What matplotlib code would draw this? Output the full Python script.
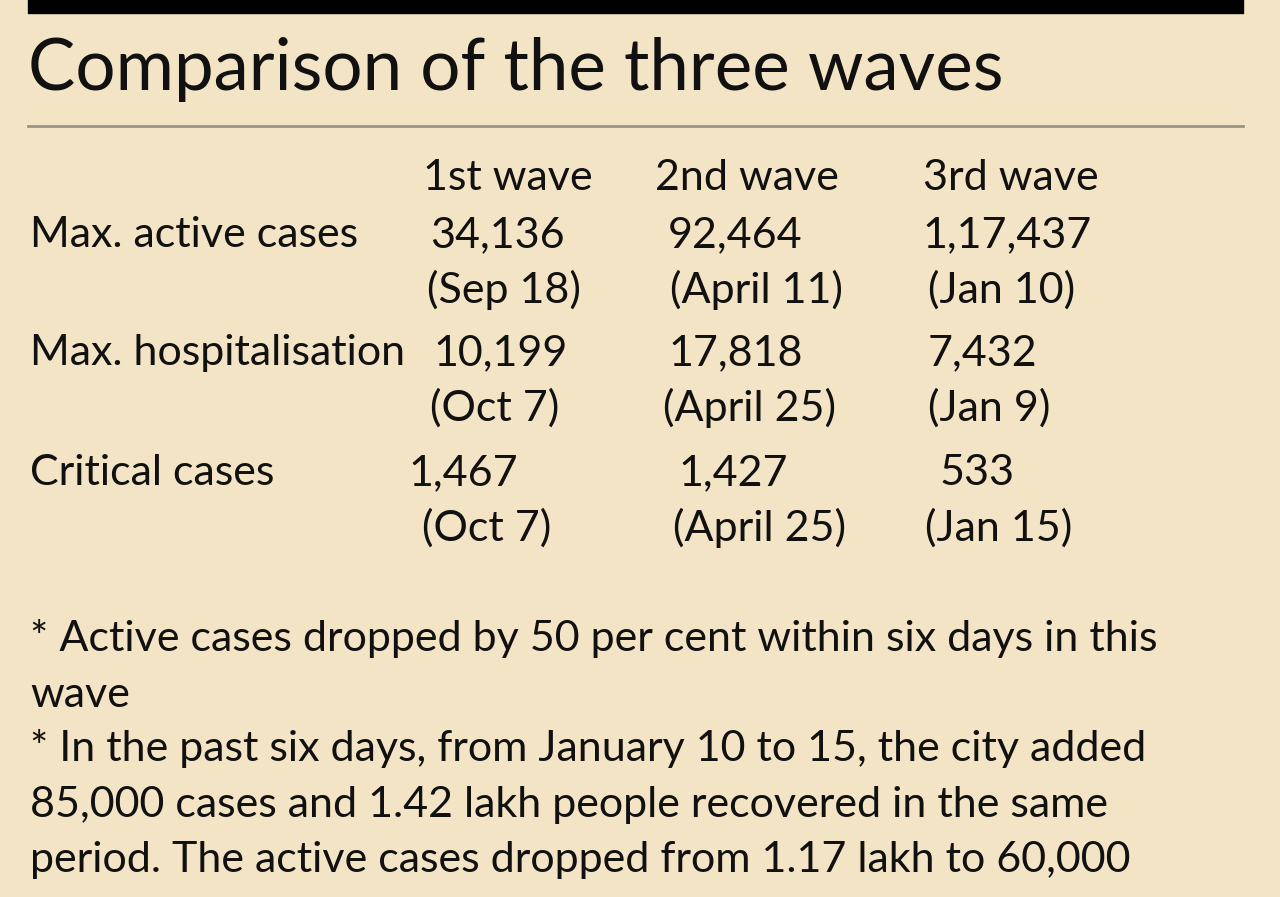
import matplotlib.pyplot as plt

BG = '#f3e4c5'

waves = ['1st wave', '2nd wave', '3rd wave']
row_labels = ['Max. active cases', 'Max. hospitalisation', 'Critical cases']
active = ['34,136', '92,464', '1,17,437']
active_dates = ['(Sep 18)', '(April 11)', '(Jan 10)']
hosp = ['10,199', '17,818', '7,432']
hosp_dates = ['(Oct 7)', '(April 25)', '(Jan 9)']
critical = ['1,467', '1,427', '533']
critical_dates = ['(Oct 7)', '(April 25)', '(Jan 15)']
notes = ['* Active cases dropped by 50 per cent within six days in this',
         'wave',
         '* In the past six days, from January 10 to 15, the city added',
         '85,000 cases and 1.42 lakh people recovered in the same',
         'period. The active cases dropped from 1.17 lakh to 60,000']

plt.rcParams['font.family'] = ['Lato', 'DejaVu Sans']

fig = plt.figure(figsize=(12.8, 8.97), dpi=100)
fig.patch.set_facecolor(BG)
ax = fig.add_axes([0, 0, 1, 1])
ax.set_xlim(0, 1280)
ax.set_ylim(897, 0)
ax.axis('off')

# top black bar and divider
ax.fill_between([28, 1243], 0, 13, color='black')
ax.plot([28, 1243], [126, 126], color='#9a9488', lw=2)

ax.text(28, 70, 'Comparison of the three waves', fontsize=51, va='center', color='#111')

fs = 31
col_x = [423, 655, 923]
for x, w in zip(col_x, waves):
    ax.text(x, 178, w, fontsize=fs, va='center', color='#111')

rows = [(active, active_dates, [430, 668, 922], [427, 670, 928], 235),
        (hosp, hosp_dates, [433, 668, 928], [430, 663, 928], 353),
        (critical, critical_dates, [408, 678, 940], [422, 673, 925], 473)]
for label, (vals, dates, vx, dx, y) in zip(row_labels, rows):
    ax.text(30, y, label, fontsize=fs, va='center', color='#111')
    for v, d, x1, x2 in zip(vals, dates, vx, dx):
        ax.text(x1, y, v, fontsize=fs, va='center', color='#111')
        ax.text(x2, y + 55, d, fontsize=fs, va='center', color='#111')

for y, line in zip([638, 695, 748, 805, 860], notes):
    ax.text(30, y, line, fontsize=fs, va='center', color='#111')

fig.savefig('out.png', dpi=100, facecolor=BG)
